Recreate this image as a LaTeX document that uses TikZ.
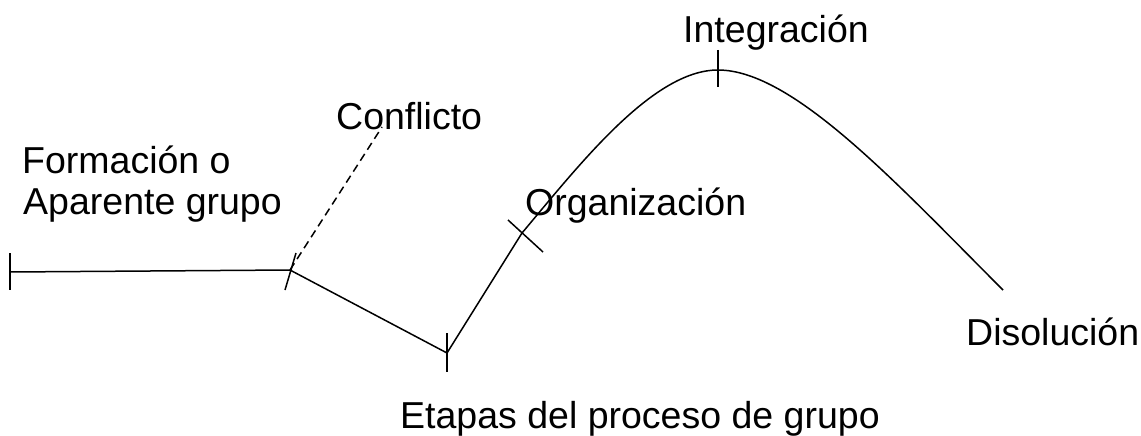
\documentclass[tikz,border=0pt]{standalone}
\usepackage{fontspec}
\setmainfont{Liberation Sans}
\begin{document}
\begin{tikzpicture}[x=1pt,y=-1pt,
  lbl/.style={inner sep=0pt,anchor=base west,font=\fontsize{37.5}{43}\selectfont},
  curve/.style={line width=1.5pt,black},
  tickmark/.style={line width=1.5pt,black}]
\useasboundingbox (0,0) rectangle (1141,436);
% key points
\coordinate (start) at (10,272);
\coordinate (conf) at (290,270);
\coordinate (confend) at (382,127);
\coordinate (dip) at (447,353);
\coordinate (org) at (522,233);
\coordinate (peak) at (718,70);
\coordinate (diss) at (1003,290);
% labels
\node[lbl] (formacion) at (22,173) {Formación o};
\node[lbl] (aparente) at (23,214) {Aparente grupo};
\node[lbl] (conflicto) at (336,129) {Conflicto};
\node[lbl] (organizacion) at (525,215) {Organización};
\node[lbl] (integracion) at (683,43) {Integración};
\node[lbl] (disolucion) at (966,345) {Disolución};
\node[lbl] (etapas) at (400,428) {Etapas del proceso de grupo};
% main path
\draw[curve,line join=round] (start) -- (conf) -- (dip) -- (org)
  .. controls (579.9,164.1) and (653,70) .. (peak)
  .. controls (793,70) and (897,184) .. (diss);
\draw[curve,dash pattern=on 8pt off 5pt] (conf) -- (confend);
% tick marks
\draw[tickmark] (10,253) -- (10,290);
\draw[tickmark] (285,290) -- (296,253);
\draw[tickmark] (447,333) -- (447,372);
\draw[tickmark] (508,220) -- (543,252);
\draw[tickmark] (718,50) -- (718,87);
\end{tikzpicture}
\end{document}
